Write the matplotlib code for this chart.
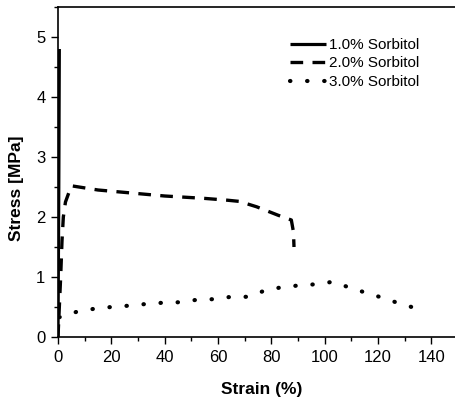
import numpy as np
from matplotlib import pyplot as plt
from matplotlib.ticker import MultipleLocator

plt.rcParams['font.family'] = ['Liberation Sans', 'DejaVu Sans']

# 1.0% Sorbitol
strain_1 = [0.0, 0.3, 0.5]
stress_1 = [0.0, 2.5, 4.8]

# 2.0% Sorbitol
strain_2 = [0.0, 0.5, 1.0, 1.5, 2.0, 2.8, 5.0, 15, 25, 40, 55, 63.5, 68, 74.5, 82.5, 87.5, 88.3, 88.5]
stress_2 = [0.0, 0.5, 1.0, 1.6, 2.0, 2.25, 2.52, 2.45, 2.41, 2.35, 2.31, 2.28, 2.26, 2.17, 2.03, 1.95, 1.75, 1.5]

# 3.0% Sorbitol
strain_3 = [0.5, 7, 13.5, 20, 26, 33, 39, 46, 52, 58, 65, 71, 78, 84, 90.5, 97, 103, 109.6, 116, 122, 128.6, 135]
stress_3 = [0.33, 0.42, 0.47, 0.5, 0.52, 0.55, 0.57, 0.58, 0.62, 0.63, 0.67, 0.67, 0.78, 0.83, 0.86, 0.88, 0.92, 0.82, 0.73, 0.65, 0.55, 0.47]

labels = ['1.0% Sorbitol', '2.0% Sorbitol', '3.0% Sorbitol']

fig = plt.figure(figsize=(4.55, 4.01), dpi=100)
ax = fig.add_axes([58/455, 64/401, 400/455, 330/401])

ax.plot(strain_1, stress_1, color='black', lw=2.3, solid_capstyle='butt', label=labels[0])
ax.plot(strain_2, stress_2, color='black', lw=2.4, linestyle=(0, (3.8, 2.8)), label=labels[1])
ax.plot(strain_3, stress_3, color='black', lw=3.0, linestyle=(0, (0.1, 4.0)),
        dash_capstyle='round', label=labels[2])

ax.set_xlim(0, 150)
ax.set_ylim(0, 5.5)
ax.xaxis.set_major_locator(MultipleLocator(20))
ax.xaxis.set_minor_locator(MultipleLocator(10))
ax.yaxis.set_major_locator(MultipleLocator(1))
ax.yaxis.set_minor_locator(MultipleLocator(0.5))
ax.tick_params(which='major', direction='out', length=5, width=1, labelsize=12, pad=4)
ax.tick_params(which='minor', direction='out', length=3, width=1)
ax.spines['right'].set_visible(False)
for s in ['left', 'bottom', 'top']:
    ax.spines[s].set_linewidth(1.2)

ax.set_xlabel('Strain (%)', fontsize=12.5, fontweight='bold')
ax.set_ylabel('Stress [MPa]', fontsize=12.5, fontweight='bold')
ax.xaxis.set_label_coords(0.51, -0.135)
ax.yaxis.set_label_coords(-0.085, 0.45)

ax.legend(loc='upper left', bbox_to_anchor=(0.565, 0.925), frameon=False, fontsize=11,
          handlelength=2.35, handletextpad=0.2, labelspacing=0.3, borderaxespad=0)

fig.savefig('out.png', dpi=100)
